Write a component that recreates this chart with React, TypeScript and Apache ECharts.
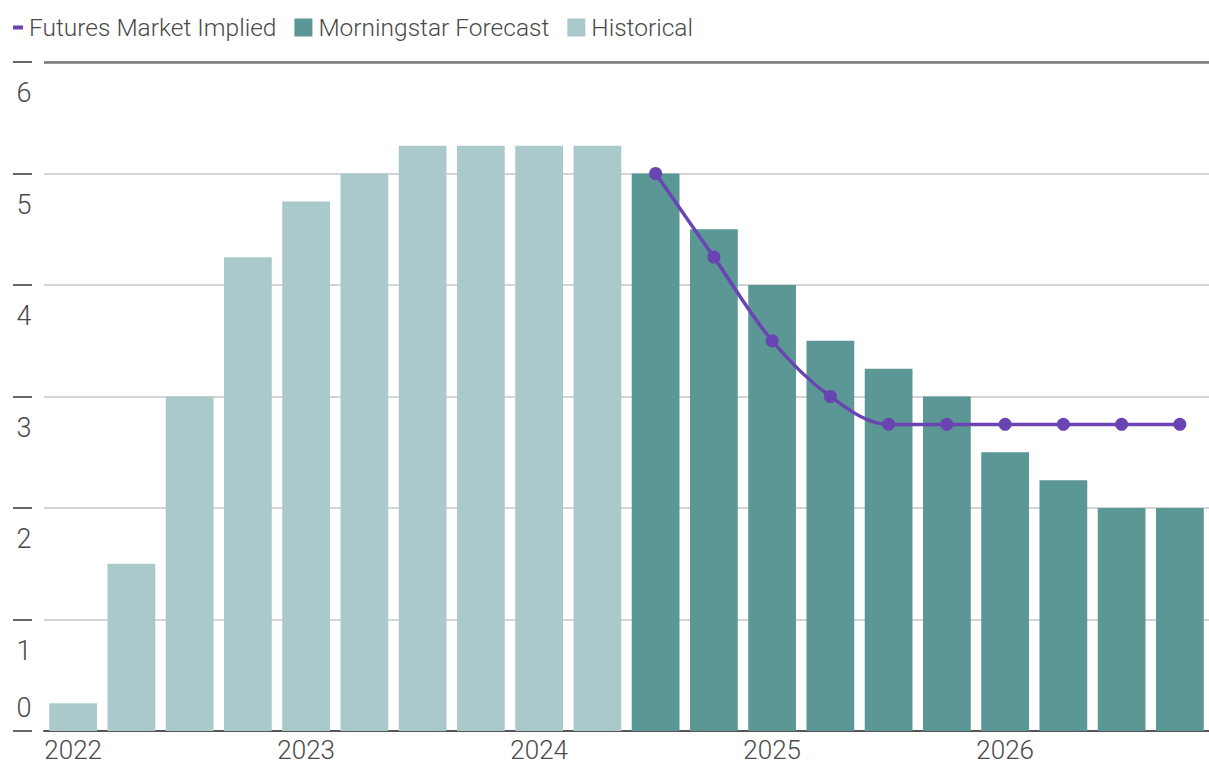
import React, { useEffect, useRef } from "react";
import * as echarts from "echarts";

const quarters = [
  "2022Q1", "2022Q2", "2022Q3", "2022Q4",
  "2023Q1", "2023Q2", "2023Q3", "2023Q4",
  "2024Q1", "2024Q2", "2024Q3", "2024Q4",
  "2025Q1", "2025Q2", "2025Q3", "2025Q4",
  "2026Q1", "2026Q2", "2026Q3", "2026Q4",
];
const historicalValues = [0.25, 1.5, 3.0, 4.25, 4.75, 5.0, 5.25, 5.25, 5.25, 5.25];
const forecastValues = [5.0, 4.5, 4.0, 3.5, 3.25, 3.0, 2.5, 2.25, 2.0, 2.0];
const futuresValues = [5.0, 4.25, 3.5, 3.0, 2.75, 2.75, 2.75, 2.75, 2.75, 2.75];
const yTicks = [0, 1, 2, 3, 4, 5, 6];

const FONT = "Roboto, sans-serif";
const TEXT = "#4a4a4a";
const PURPLE = "#6a44b2";

export default function App() {
  const ref = useRef<HTMLDivElement>(null);
  useEffect(() => {
    if (!ref.current) return;
    const chart = echarts.init(ref.current, undefined, { renderer: "svg" });
    const pad = (n: number) => Array(n).fill("-");
    const histData = [...historicalValues, ...pad(quarters.length - historicalValues.length)];
    const foreData = [...pad(quarters.length - forecastValues.length), ...forecastValues];
    const futData = [...pad(quarters.length - futuresValues.length), ...futuresValues];

    chart.setOption({
      animation: false,
      textStyle: { fontFamily: FONT },
      legend: {
        left: 0,
        top: 10,
        itemGap: 18,
        itemWidth: 18,
        itemHeight: 18,
        textStyle: { fontFamily: FONT, fontSize: 24.5, fontWeight: 300, color: TEXT, padding: [0, 0, 0, 1] },
        data: [
          { name: "Futures Market Implied", icon: "path://M8,7 H18 V11 H8 Z M0,0 M18,18", itemStyle: { color: PURPLE } },
          { name: "Morningstar Forecast", icon: "rect" },
          { name: "Historical", icon: "rect" },
        ],
      },
      grid: { left: 44, right: -9, top: 62, bottom: 38 },
      xAxis: {
        type: "category",
        data: quarters,
        axisLine: { lineStyle: { color: "#555", width: 2 } },
        axisTick: { show: false },
        axisLabel: {
          interval: 3,
          margin: 6,
          fontFamily: FONT,
          fontSize: 26,
          fontWeight: 300,
          color: TEXT,
          formatter: (v: string) => v.slice(0, 4),
        },
      },
      yAxis: {
        type: "value",
        min: yTicks[0],
        max: yTicks[yTicks.length - 1],
        interval: 1,
        offset: 12,
        axisLine: { show: false },
        axisTick: { show: true, length: 19, lineStyle: { color: "#666", width: 2 } },
        splitLine: { lineStyle: { color: "#d4d4d4", width: 2 } },
        axisLabel: {
          align: "center",
          margin: 8,
          fontFamily: FONT,
          fontSize: 27,
          fontWeight: 300,
          color: TEXT,
          formatter: (v: number) => (v === 0 ? "{b|0}\n{b| }" : "{a| }\n{a|" + v + "}"),
          rich: {
            a: { lineHeight: 62, fontSize: 27, fontWeight: 300, fontFamily: FONT, color: TEXT },
            b: { lineHeight: 46, fontSize: 27, fontWeight: 300, fontFamily: FONT, color: TEXT },
          },
        },
      },
      series: [
        {
          name: "Historical",
          type: "bar",
          stack: "rate",
          data: histData,
          barCategoryGap: "18%",
          itemStyle: { color: "#aac9cb" },
          markLine: {
            silent: true,
            symbol: "none",
            label: { show: false },
            lineStyle: { color: "#7a7a7a", width: 2.5, type: "solid" },
            data: [{ yAxis: yTicks[yTicks.length - 1] }],
          },
        },
        {
          name: "Morningstar Forecast",
          type: "bar",
          stack: "rate",
          data: foreData,
          barCategoryGap: "18%",
          itemStyle: { color: "#5b9794" },
        },
        {
          name: "Futures Market Implied",
          type: "line",
          data: futData,
          smooth: 0.35,
          symbol: "circle",
          symbolSize: 13,
          lineStyle: { color: PURPLE, width: 3.5 },
          itemStyle: { color: PURPLE },
          z: 5,
        },
      ],
    });
    return () => chart.dispose();
  }, []);
  return (
    <div
      ref={ref}
      style={{ position: "fixed", left: 0, top: 0, width: 1209, height: 769, background: "#fff" }}
    />
  );
}
